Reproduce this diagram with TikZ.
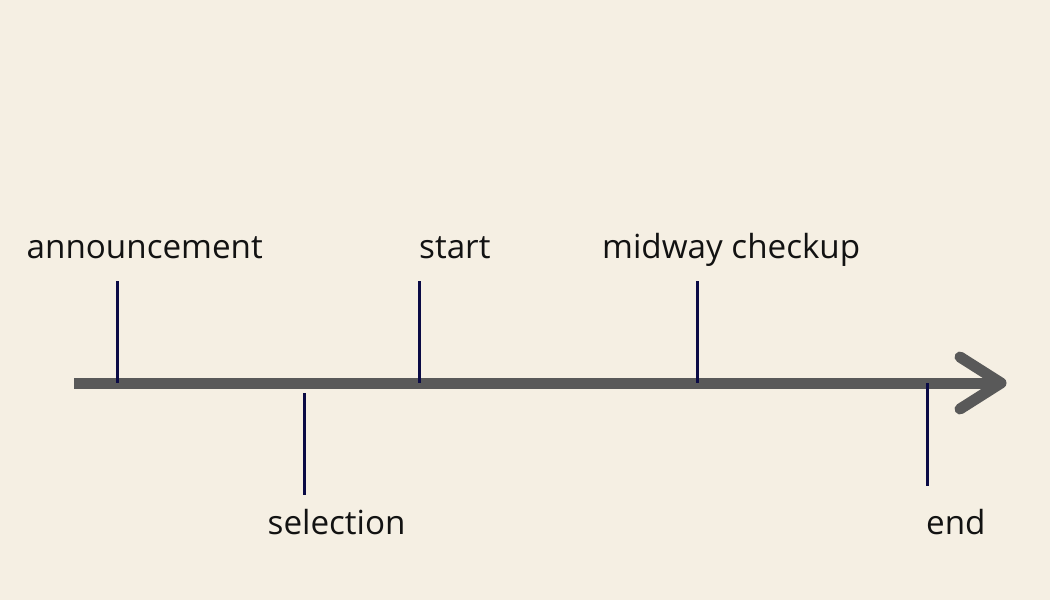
\documentclass[tikz,border=0pt]{standalone}
\usepackage{fontspec}
\setmainfont{Open Sans}
\definecolor{paper}{HTML}{F5EFE3}
\definecolor{axisgray}{HTML}{595959}
\definecolor{ticknavy}{HTML}{0A0A45}
\begin{document}
\begin{tikzpicture}[x=1pt,y=-1pt,
    axis/.style={axisgray,line width=11pt},
    tick/.style={ticknavy,line width=3pt},
    event/.style={anchor=base west,inner sep=0pt,font=\fontsize{33.2}{40}\selectfont,text=black!93}]
            \fill[paper] (0,0) rectangle (1050,600);
            \useasboundingbox (0,0) rectangle (1050,600);
            \coordinate (t0) at (74,383);
            \coordinate (t1) at (997,383);
            \coordinate (tip) at (1001,383);
            \draw[axis] (t0)--(t1);
            \draw[axis,line cap=round,line join=round] (960,357)--(tip)--(960,409);
            \draw[tick] (117,281)--(117,383);
            \draw[tick] (304,393)--(304,495);
            \draw[tick] (419,281)--(419,383);
            \draw[tick] (697,281)--(697,383);
            \draw[tick] (927,383)--(927,486);
            \node[event] (ann) at (26.5,258) {announcement};
            \node[event] (sel) at (267.5,534) {selection};
            \node[event] (sta) at (419,258) {start};
            \node[event] (mid) at (602,258) {midway checkup};
            \node[event] (end) at (926,534) {end};
        \end{tikzpicture}
\end{document}
